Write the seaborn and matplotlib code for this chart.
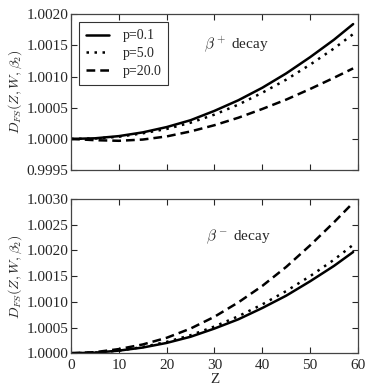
import numpy as np
import pandas as pd
import matplotlib
matplotlib.use("Agg")
import matplotlib.pyplot as plt
import seaborn as sns

# Z grid and correction values D_FS - 1
z = [0, 5, 10, 15, 20, 25, 30, 35, 40, 45, 50, 55, 59]
labels = ["p=0.1", "p=5.0", "p=20.0"]

# beta+ decay
plus_p01 = [0, 0.00001, 0.000045, 0.000105, 0.00019, 0.00030, 0.00045, 0.00062, 0.00082, 0.00105, 0.00131, 0.00159, 0.00184]
plus_p5 = [0, 0.000007, 0.000035, 0.00009, 0.00016, 0.00026, 0.00039, 0.00055, 0.00074, 0.00095, 0.00119, 0.00145, 0.00168]
plus_p20 = [0, -0.00002, -0.00003, -0.00001, 0.00004, 0.00012, 0.00022, 0.00034, 0.00048, 0.00063, 0.00080, 0.00098, 0.00113]

# beta- decay
minus_p01 = [0, 0.00001, 0.00005, 0.00011, 0.00020, 0.00032, 0.00048, 0.00066, 0.00088, 0.00112, 0.00140, 0.00170, 0.00197]
minus_p5 = [0, 0.00001, 0.00005, 0.00012, 0.00022, 0.00035, 0.00052, 0.00072, 0.00095, 0.00121, 0.00150, 0.00182, 0.00211]
minus_p20 = [0, 0.00002, 0.00008, 0.00017, 0.00030, 0.00048, 0.00071, 0.00099, 0.00131, 0.00168, 0.00210, 0.00255, 0.00293]

sns.set_style("ticks")
plt.rcParams["font.family"] = ["Liberation Serif", "DejaVu Serif"]
plt.rcParams["mathtext.fontset"] = "cm"
plt.rcParams["xtick.direction"] = "in"
plt.rcParams["ytick.direction"] = "in"
plt.rcParams["xtick.top"] = True
plt.rcParams["ytick.right"] = True

styles = ["-", (0, (1, 2.2)), (0, (3.5, 2))]

fig = plt.figure(figsize=(3.74, 3.92), dpi=100)
ax1 = fig.add_axes([0.19, 0.566, 0.767, 0.398])
ax2 = fig.add_axes([0.19, 0.099, 0.767, 0.393])


def draw(ax, series):
    for vals, lab, ls in zip(series, labels, styles):
        df = pd.DataFrame({"Z": z, "D": 1.0 + np.array(vals)})
        sns.lineplot(data=df, x="Z", y="D", ax=ax, color="black",
                     linestyle=ls, linewidth=1.8, label=lab, legend=False)
    ax.set_xlim(0, 60)
    ax.set_xticks(range(0, 61, 10))
    ax.set_ylabel(r"$D_{FS}(Z,W,\beta_2)$", fontsize=10, labelpad=2)
    ax.yaxis.set_major_formatter(matplotlib.ticker.FormatStrFormatter("%.4f"))
    ax.tick_params(labelsize=11, length=4, width=0.8)
    ax.tick_params(axis="y", pad=2)
    ax.tick_params(axis="x", pad=4)
    for s in ax.spines.values():
        s.set_linewidth(0.9)
        s.set_color("#444444")


draw(ax1, [plus_p01, plus_p5, plus_p20])
ax1.set_ylim(0.9995, 1.0020)
ax1.set_yticks([0.9995, 1.0000, 1.0005, 1.0010, 1.0015, 1.0020])
ax1.set_xlabel("")
ax1.tick_params(labelbottom=False)
ax1.text(34.5, 1.00151, r"$\beta^+$ decay", fontsize=11, ha="center", va="center")
leg = ax1.legend(loc="upper left", fontsize=10, frameon=True, fancybox=False,
                 handlelength=1.6, handletextpad=1.0, borderpad=0.5,
                 labelspacing=0.35, borderaxespad=0.6)
leg.get_frame().set_edgecolor("black")
leg.get_frame().set_linewidth(0.8)

draw(ax2, [minus_p01, minus_p5, minus_p20])
ax2.set_ylim(1.0000, 1.0030)
ax2.set_yticks([1.0000, 1.0005, 1.0010, 1.0015, 1.0020, 1.0025, 1.0030])
ax2.set_xlabel("Z", fontsize=11, labelpad=1)
ax2.text(35, 1.00226, r"$\beta^-$ decay", fontsize=11, ha="center", va="center")

fig.savefig("out.png", dpi=100)
